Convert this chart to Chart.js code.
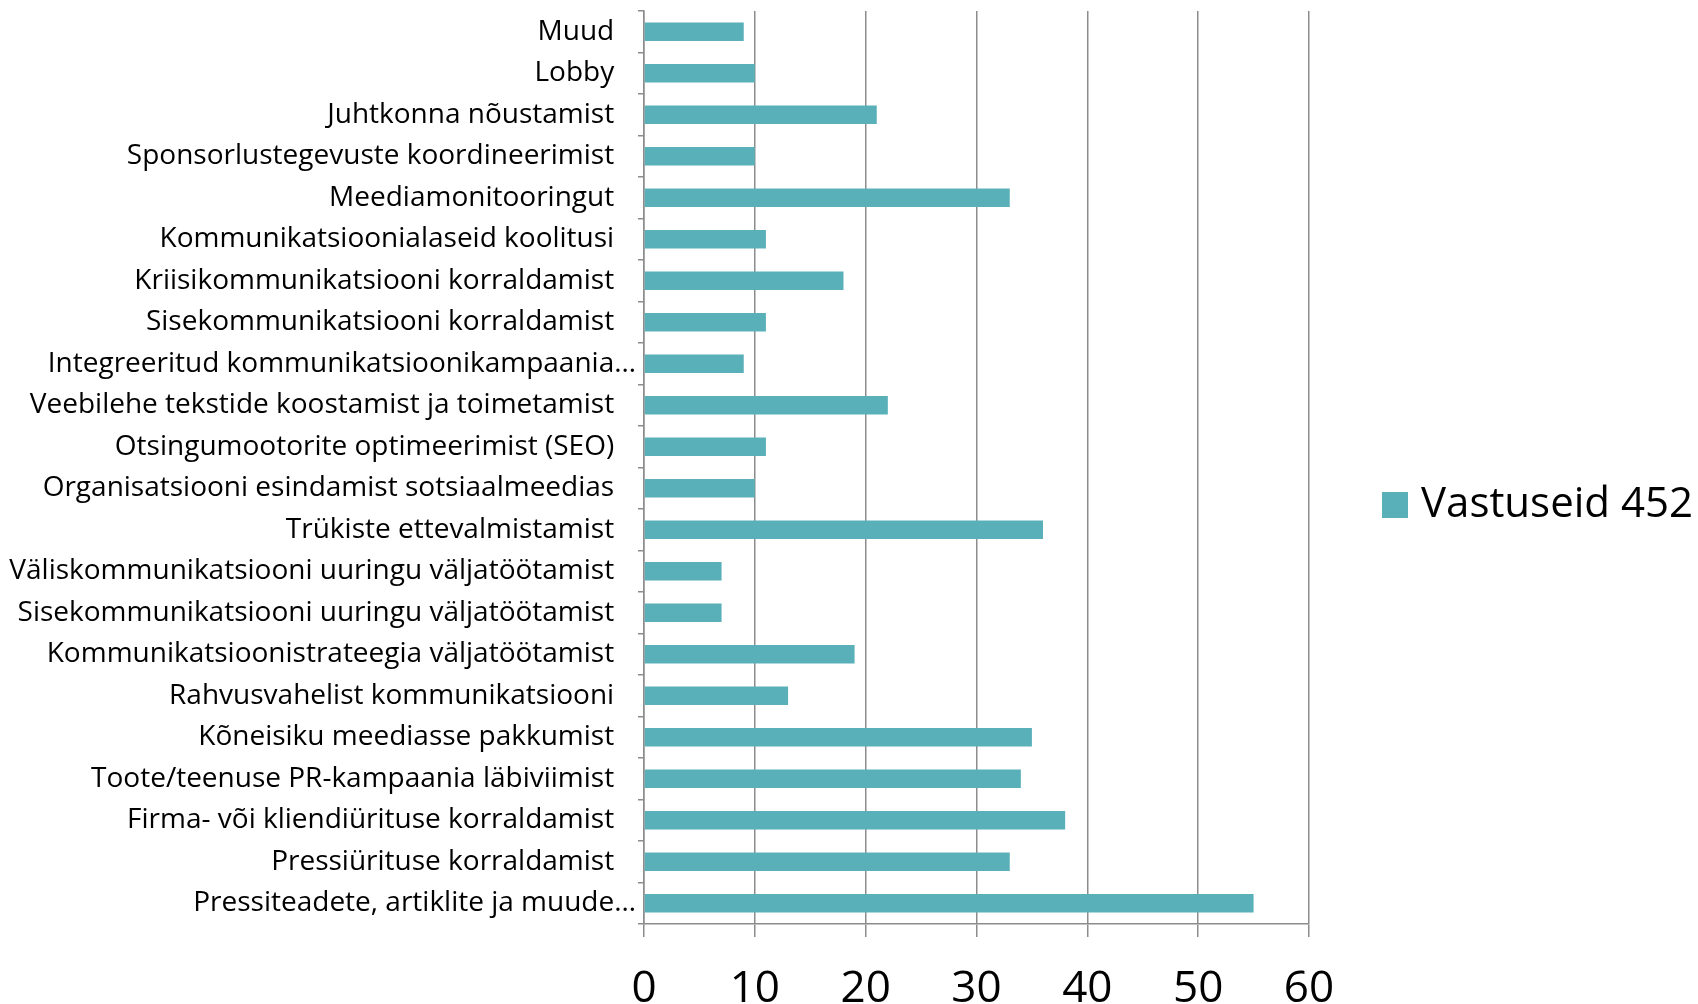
<!DOCTYPE html>
<html>
<head>
<meta charset="utf-8">
<script src="https://cdn.jsdelivr.net/npm/chart.js@4/dist/chart.umd.min.js"></script>
<style>
  html, body { margin: 0; padding: 0; background: #fff; }
  #wrap { width: 1698px; height: 1004px; position: relative; }
</style>
</head>
<body>
<div id="wrap"><canvas id="c"></canvas></div>
<script>
const categories = [
  "Muud",
  "Lobby",
  "Juhtkonna nõustamist",
  "Sponsorlustegevuste koordineerimist",
  "Meediamonitooringut",
  "Kommunikatsioonialaseid koolitusi",
  "Kriisikommunikatsiooni korraldamist",
  "Sisekommunikatsiooni korraldamist",
  "Integreeritud kommunikatsioonikampaania…",
  "Veebilehe tekstide koostamist ja toimetamist",
  "Otsingumootorite optimeerimist (SEO)",
  "Organisatsiooni esindamist sotsiaalmeedias",
  "Trükiste ettevalmistamist",
  "Väliskommunikatsiooni uuringu väljatöötamist",
  "Sisekommunikatsiooni uuringu väljatöötamist",
  "Kommunikatsioonistrateegia väljatöötamist",
  "Rahvusvahelist kommunikatsiooni",
  "Kõneisiku meediasse pakkumist",
  "Toote/teenuse PR-kampaania läbiviimist",
  "Firma- või kliendiürituse korraldamist",
  "Pressiürituse korraldamist",
  "Pressiteadete, artiklite ja muude…"
];
const seriesName = "Vastuseid 452";
const values = [9, 10, 21, 10, 33, 11, 18, 11, 9, 22, 11, 10, 36, 7, 7, 19, 13, 35, 34, 38, 33, 55];
const xTicks = [0, 10, 20, 30, 40, 50, 60];

const FONT = "'Open Sans', sans-serif";
const BAR_COLOR = '#5AB0B9';
const GRID = '#8C8C8C';

const legendPlugin = {
  id: 'sideLegend',
  afterDraw(chart) {
    const ctx = chart.ctx;
    const ds = chart.data.datasets[0];
    ctx.save();
    ctx.fillStyle = ds.backgroundColor;
    ctx.fillRect(1382, 492, 26, 26);
    ctx.fillStyle = '#000';
    ctx.font = "42px " + FONT;
    ctx.textBaseline = 'middle';
    ctx.textAlign = 'left';
    ctx.fillText(ds.label, 1421, 505);
    ctx.restore();
  }
};

new Chart(document.getElementById('c'), {
  type: 'bar',
  data: {
    labels: categories,
    datasets: [{
      label: seriesName,
      data: values,
      backgroundColor: BAR_COLOR,
      borderWidth: 0,
      barPercentage: 1,
      categoryPercentage: 0.44
    }]
  },
  options: {
    indexAxis: 'y',
    responsive: true,
    maintainAspectRatio: false,
    animation: false,
    layout: { padding: { top: 11, right: 389, left: 0, bottom: 0 } },
    plugins: { legend: { display: false }, tooltip: { enabled: false } },
    scales: {
      x: {
        min: xTicks[0],
        max: xTicks[xTicks.length - 1],
        afterBuildTicks(scale) { scale.ticks = xTicks.map(v => ({ value: v })); },
        afterFit(scale) { scale.height = 80; },
        grid: { color: GRID, lineWidth: 1.5, tickLength: 13, drawTicks: true },
        border: { color: GRID, width: 1.5 },
        ticks: { color: '#000', font: { family: FONT, size: 44 }, padding: 26 }
      },
      y: {
        afterFit(scale) { scale.width = 644; scale.paddingTop = 0; scale.paddingBottom = 0; },
        grid: { drawOnChartArea: false, color: GRID, lineWidth: 1.5, tickLength: 6, offset: true },
        border: { color: GRID, width: 1.5 },
        ticks: {
          color: '#000',
          font: { family: FONT, size: 28 },
          padding: 2,
          autoSkip: false,
          callback(v) {
            const s = this.getLabelForValue(v);
            return s.endsWith('…') ? s : s + '   ';
          }
        }
      }
    }
  },
  plugins: [legendPlugin]
});
</script>
</body>
</html>
